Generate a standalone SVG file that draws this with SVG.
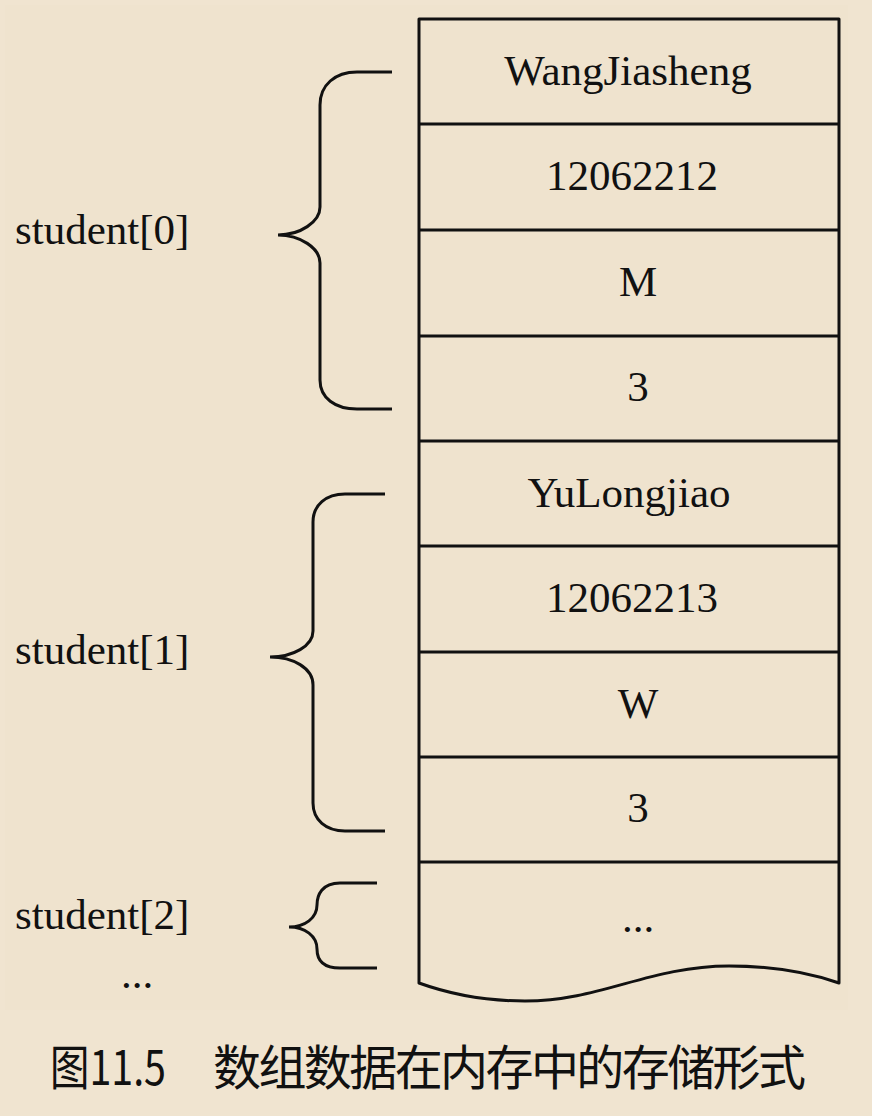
<svg xmlns="http://www.w3.org/2000/svg" width="872" height="1116" viewBox="0 0 872 1116">
<style>
.ln{fill:none;stroke:#111;stroke-width:3;stroke-linejoin:round;stroke-linecap:butt}
.br{fill:none;stroke:#111;stroke-width:3;stroke-linejoin:miter}
.t{font-family:"Liberation Serif","Times New Roman",serif;font-size:43px;fill:#111}
.c{text-anchor:middle}
.cap{font-family:"Noto Sans CJK SC","Noto Sans",sans-serif;font-size:48px;fill:#111}
</style>
<rect x="0" y="0" width="872" height="1116" fill="#f0e4d0"/>
<rect x="5" y="5" width="843" height="1005" fill="#efe3ce"/>

<g id="memory-block">
<path class="ln" d="M419,983 V19 H839 V983 C810,973 775,966 729,966 C650,966 600,1001 525,1001 C490,1001 455,996 419,983 Z"/>
</g>

<g id="cell-name0"><text class="t c" x="628" y="85">WangJiasheng</text></g>
<g id="cell-num0"><line class="ln" x1="419" y1="124" x2="839" y2="124"/><text class="t c" x="632" y="190">12062212</text></g>
<g id="cell-sex0"><line class="ln" x1="419" y1="230" x2="839" y2="230"/><text class="t c" x="638" y="296">M</text></g>
<g id="cell-age0"><line class="ln" x1="419" y1="336" x2="839" y2="336"/><text class="t c" x="638" y="401">3</text></g>
<g id="cell-name1"><line class="ln" x1="419" y1="441" x2="839" y2="441"/><text class="t c" x="629" y="507">YuLongjiao</text></g>
<g id="cell-num1"><line class="ln" x1="419" y1="546" x2="839" y2="546"/><text class="t c" x="632" y="612">12062213</text></g>
<g id="cell-sex1"><line class="ln" x1="419" y1="652" x2="839" y2="652"/><text class="t c" x="638" y="718">W</text></g>
<g id="cell-age1"><line class="ln" x1="419" y1="757" x2="839" y2="757"/><text class="t c" x="638" y="822">3</text></g>
<g id="cell-more"><line class="ln" x1="419" y1="862" x2="839" y2="862"/><text class="t c" x="638" y="932">...</text></g>

<g id="label-student0"><text class="t" x="15" y="244">student[0]</text></g>
<g id="label-student1"><text class="t" x="15" y="664">student[1]</text></g>
<g id="label-student2"><text class="t" x="15" y="929">student[2]</text></g>
<g id="label-more"><text class="t" x="121" y="988">...</text></g>

<g id="connectors">
<path class="br" d="M392,72 L357,72 C335,72 320,85 320,105 L320,207 C320,222 300,235 278,235 C300,235 320,248 320,263 L320,380 C320,398 335,409 357,409 L392,409"/>
<path class="br" d="M385,494 L345,494 C326,494 313,505 313,522 L313,631 C313,646 293,657 270,657 C293,657 313,668 313,685 L313,803 C313,820 326,831 345,831 L385,831"/>
<path class="br" d="M377,883 L340,883 C322,883 317,895 317,905 C317,918 305,927 289,927 C305,927 317,936 317,949 C317,959 322,968 340,968 L377,968"/>
</g>

<g id="caption">
<text class="cap" x="50" y="1085" textLength="116" lengthAdjust="spacingAndGlyphs">图11.5</text>
<text class="cap" x="213" y="1085" textLength="593" lengthAdjust="spacing">数组数据在内存中的存储形式</text>
</g>
</svg>
